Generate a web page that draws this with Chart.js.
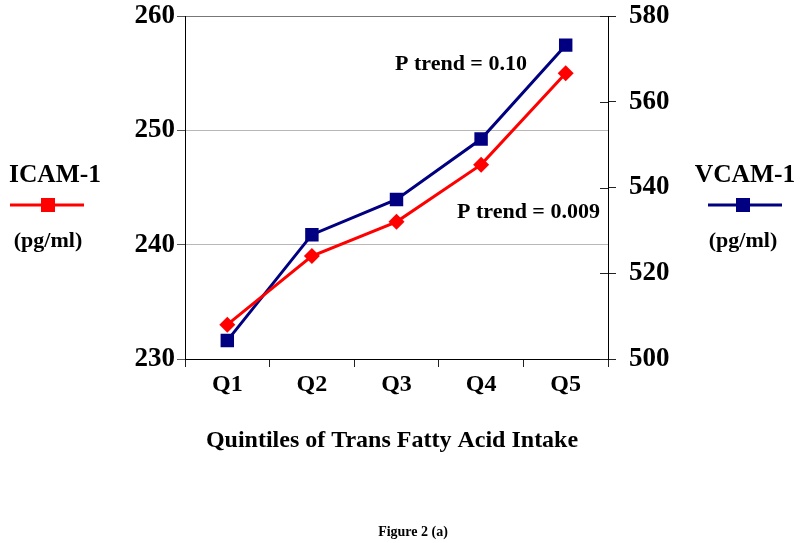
<!DOCTYPE html>
<html><head><meta charset="utf-8">
<script src="https://cdn.jsdelivr.net/npm/chart.js@4"></script>
<style>html,body{margin:0;padding:0;background:#fff}#wrap{width:800px;height:543px;position:relative}</style>
</head><body><div id="wrap"><canvas id="c" width="800" height="543"></canvas></div>
<script>
const categories = ['Q1', 'Q2', 'Q3', 'Q4', 'Q5'];
const icamValues = [233, 239, 242, 247, 255];
const vcamValues = [504.3, 529, 537.2, 551.3, 573.2];
const icamRange = [230, 260, 10];
const vcamRange = [500, 580, 20];
const xTitle = 'Quintiles of Trans Fatty Acid Intake';
const figLabel = 'Figure 2 (a)';
const pTrendV = 'P trend = 0.10';
const pTrendI = 'P trend = 0.009';

const SERIF = "'Liberation Serif', 'Times New Roman', serif";
const RED = '#FF0000';
const NAVY = '#000080';

const extras = {
  id: 'extras',
  afterDraw(chart) {
    const ctx = chart.ctx;
    const ca = chart.chartArea;
    ctx.save();
    const yR = chart.scales.yR;
    ctx.strokeStyle = '#222';
    ctx.lineWidth = 1;
    yR.ticks.forEach(t => {
      const y = Math.round(yR.getPixelForValue(t.value)) + 0.5;
      ctx.beginPath(); ctx.moveTo(ca.right - 8, y); ctx.lineTo(ca.right, y); ctx.stroke();
    });
    ctx.fillStyle = '#000';
    ctx.textAlign = 'center';
    ctx.textBaseline = 'alphabetic';
    ctx.font = 'bold 24px ' + SERIF;
    ctx.fillText(xTitle, 392, 447);
    ctx.font = 'bold 14px ' + SERIF;
    ctx.fillText(figLabel, 413, 536);
    ctx.font = 'bold 22px ' + SERIF;
    ctx.textAlign = 'left';
    ctx.fillText(pTrendV, 395, 70);
    ctx.fillText(pTrendI, 457, 218);
    const legend = (cx, label, color) => {
      ctx.textAlign = 'center';
      ctx.fillStyle = '#000';
      ctx.font = 'bold 25.5px ' + SERIF;
      ctx.fillText(label, cx, 182);
      const shift = label === 'ICAM-1' ? 8 : 0;
      ctx.strokeStyle = color; ctx.lineWidth = 3;
      ctx.beginPath(); ctx.moveTo(cx - 37 - shift, 205); ctx.lineTo(cx + 37 - shift, 205); ctx.stroke();
      ctx.fillStyle = color;
      const mx = label === 'ICAM-1' ? cx - 7 : cx - 2;
      ctx.fillRect(mx - 7, 198, 14, 14);
      ctx.fillStyle = '#000';
      ctx.font = 'bold 22px ' + SERIF;
      ctx.fillText('(pg/ml)', mx, 247);
    };
    legend(55, 'ICAM-1', RED);
    legend(745, 'VCAM-1', NAVY);
    ctx.restore();
  }
};

const noPad = s => { s.paddingTop = 0; s.paddingBottom = 0; };

new Chart(document.getElementById('c'), {
  type: 'line',
  data: {
    labels: categories,
    datasets: [
      { label: 'ICAM-1', data: icamValues, yAxisID: 'yL', borderColor: RED, backgroundColor: RED,
        borderWidth: 3, pointStyle: 'rectRot', pointRadius: 8, pointHoverRadius: 8, pointBorderWidth: 0, tension: 0 },
      { label: 'VCAM-1', data: vcamValues, yAxisID: 'yR', borderColor: NAVY, backgroundColor: NAVY,
        borderWidth: 3, pointStyle: 'rect', pointRadius: 9.5, pointHoverRadius: 9.5, pointBorderWidth: 0, tension: 0 }
    ]
  },
  options: {
    responsive: false,
    animation: false,
    devicePixelRatio: 1,
    layout: { padding: { top: 16, left: 0, right: 0, bottom: 0 } },
    plugins: { legend: { display: false }, tooltip: { enabled: false } },
    scales: {
      x: {
        offset: true,
        afterFit: s => { s.height = 543 - 359; s.paddingLeft = 0; s.paddingRight = 0; },
        grid: { offset: true, drawOnChartArea: false, tickLength: 8, color: '#222', tickColor: '#222' },
        border: { color: '#000', width: 1 },
        ticks: { color: '#000', padding: 3, font: { family: SERIF, size: 24, weight: 'bold' } }
      },
      yL: {
        position: 'left',
        min: icamRange[0], max: icamRange[1],
        afterFit: s => { s.width = 185; noPad(s); },
        ticks: { stepSize: icamRange[2], color: '#000', padding: 2, font: { family: SERIF, size: 27, weight: 'bold' } },
        grid: { tickLength: 8, color: ctx => ctx.tick && ctx.tick.value === icamRange[1] ? '#777' : '#b8b8b8', tickColor: '#555' },
        border: { color: '#000', width: 1 }
      },
      yR: {
        position: 'right',
        min: vcamRange[0], max: vcamRange[1],
        afterFit: s => { s.width = 800 - 608; noPad(s); },
        ticks: { stepSize: vcamRange[2], color: '#000', padding: 13, font: { family: SERIF, size: 27, weight: 'bold' } },
        grid: { drawOnChartArea: false, tickLength: 8, color: '#222', tickColor: '#222' },
        border: { color: '#000', width: 1 }
      }
    }
  },
  plugins: [extras]
});
</script>
</body></html>
